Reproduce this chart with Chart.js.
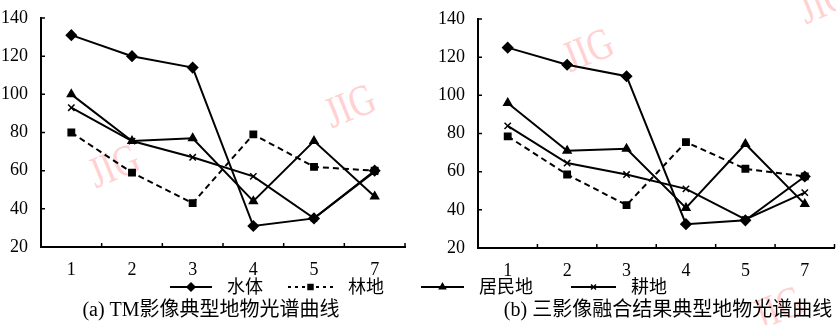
<!DOCTYPE html>
<html>
<head>
<meta charset="utf-8">
<script src="https://cdn.jsdelivr.net/npm/chart.js@4.4.1/dist/chart.umd.min.js"></script>
<style>
  html, body { margin: 0; padding: 0; background: #fff; overflow: hidden; }
  body { width: 836px; height: 325px; position: relative; }
  .box { position: absolute; top: 0; height: 325px; }
  .mark {
    position: absolute; font-family: "Liberation Serif", serif; font-size: 44px;
    color: rgba(255, 170, 170, 0.55); transform: rotate(-22deg) scaleX(0.8); white-space: nowrap;
  }
</style>
</head>
<body>
<div class="mark" style="left:318px;top:80px;">JIG</div>
<div class="mark" style="left:82px;top:140px;">JIG</div>
<div class="mark" style="left:556px;top:24px;">JIG</div>
<div class="mark" style="left:792px;top:-24px;">JIG</div>
<div class="mark" style="left:746px;top:282px;">JIG</div>
<div class="box" style="left:0;width:416px;"><canvas id="chart-a"></canvas></div>
<div class="box" style="left:416px;width:425px;"><canvas id="chart-b"></canvas></div>
<script>
// 波段 (TM band numbers)
const bands = ['1', '2', '3', '4', '5', '7'];
const seriesNames = ['水体', '林地', '居民地', '耕地'];

// (a) TM影像
const tmWater = [131, 120, 114, 31, 35, 60];
const tmForest = [80, 59, 43, 79, 62, 60];
const tmResidential = [100, 75.5, 77, 44, 75.5, 46.5];
const tmFarmland = [93, 75.5, 67, 57, 35, 59.5];

// (b) 三影像融合结果
const fusedWater = [125, 116, 110, 32.5, 34.5, 57.5];
const fusedForest = [78.5, 58.5, 42.5, 75.5, 61.5, 57.5];
const fusedResidential = [96, 71, 72, 41, 74.5, 43];
const fusedFarmland = [84, 64.5, 58.5, 51, 35, 49];

const yMin = 20, yMax = 140, yStep = 20;

const SERIF = '"Liberation Serif", "Times New Roman", serif';
const CJK = '"Liberation Serif", "Noto Sans CJK SC", serif';

Chart.defaults.font.family = SERIF;
Chart.defaults.font.size = 18;
Chart.defaults.color = '#000';

function makeDatasets(water, forest, residential, farmland) {
  const base = { borderColor: '#000', backgroundColor: '#000', borderWidth: 2, tension: 0, pointBorderWidth: 1.5 };
  return [
    { ...base, label: seriesNames[0], data: water, pointStyle: 'rectRot', pointRadius: 5 },
    { ...base, label: seriesNames[1], data: forest, pointStyle: 'rect', pointRadius: 4.5, borderDash: [6, 4] },
    { ...base, label: seriesNames[2], data: residential, pointStyle: 'triangle', pointRadius: 4.5 },
    { ...base, label: seriesNames[3], data: farmland, pointStyle: 'crossRot', pointRadius: 4.5 }
  ];
}

// ticks drawn inward, like the original figure
const innerTicks = {
  id: 'innerTicks',
  afterDraw(chart) {
    const { ctx, chartArea: a, scales } = chart;
    ctx.save();
    ctx.strokeStyle = '#000';
    ctx.lineWidth = 1.5;
    ctx.beginPath();
    scales.y.ticks.forEach(t => {
      const y = scales.y.getPixelForValue(t.value);
      ctx.moveTo(a.left, y);
      ctx.lineTo(a.left + 4, y);
    });
    const n = bands.length;
    for (let i = 0; i <= n; i++) {
      const x = a.left + i * (a.right - a.left) / n;
      ctx.moveTo(x, a.bottom);
      ctx.lineTo(x, a.bottom - 4);
    }
    ctx.stroke();
    ctx.restore();
  }
};

// line + marker legend and caption under each chart
const legendCaption = {
  id: 'legendCaption',
  afterDraw(chart, args, opts) {
    const ctx = chart.ctx;
    ctx.save();
    opts.items.forEach(item => {
      const ds = chart.data.datasets[item.index];
      ctx.strokeStyle = '#000';
      ctx.lineWidth = 2;
      ctx.setLineDash(ds.borderDash ? [3, 4] : []);
      ctx.beginPath();
      ctx.moveTo(item.x, opts.y);
      ctx.lineTo(item.x + item.len, opts.y);
      ctx.stroke();
      ctx.setLineDash([]);
      ctx.fillStyle = '#000';
      ctx.lineWidth = 1.5;
      Chart.helpers.drawPoint(ctx, { pointStyle: ds.pointStyle, radius: ds.pointRadius - 1, borderWidth: 1.5, rotation: 0 },
        item.x + item.len / 2, opts.y);
      ctx.font = '18px ' + CJK;
      ctx.textBaseline = 'middle';
      ctx.textAlign = 'left';
      ctx.fillText(ds.label, item.x + item.len + 15, opts.y + 1);
    });
    ctx.font = '20px ' + CJK;
    ctx.textAlign = 'center';
    ctx.textBaseline = 'middle';
    ctx.fillText(opts.caption, opts.captionX, opts.captionY);
    ctx.restore();
  }
};

function makeOptions(padding, legend) {
  return {
    responsive: true,
    maintainAspectRatio: false,
    animation: false,
    events: [],
    layout: { padding },
    scales: {
      x: {
        offset: true,
        grid: { display: false },
        border: { display: true, color: '#000', width: 2 },
        ticks: { padding: 4, font: { size: 18 } },
        afterFit: s => { s.height = 30; }
      },
      y: {
        min: yMin,
        max: yMax,
        grid: { display: false },
        border: { display: true, color: '#000', width: 2 },
        ticks: { stepSize: yStep, padding: 5, font: { size: 18 } },
        afterFit: s => { s.width = 41; }
      }
    },
    plugins: {
      legend: { display: false },
      tooltip: { enabled: false },
      legendCaption: legend
    }
  };
}

new Chart(document.getElementById('chart-a').getContext('2d'), {
  type: 'line',
  data: { labels: bands, datasets: makeDatasets(tmWater, tmForest, tmResidential, tmFarmland) },
  options: makeOptions({ left: 0, top: 18, right: 11, bottom: 48 }, {
    y: 287,
    items: [{ index: 0, x: 170, len: 42 }, { index: 1, x: 288, len: 45 }],
    caption: '(a) TM影像典型地物光谱曲线',
    captionX: 211,
    captionY: 311
  }),
  plugins: [innerTicks, legendCaption]
});

new Chart(document.getElementById('chart-b').getContext('2d'), {
  type: 'line',
  data: { labels: bands, datasets: makeDatasets(fusedWater, fusedForest, fusedResidential, fusedFarmland) },
  options: makeOptions({ left: 21, top: 19, right: 2, bottom: 47 }, {
    y: 287,
    items: [{ index: 2, x: 5, len: 43 }, { index: 3, x: 155, len: 45 }],
    caption: '(b) 三影像融合结果典型地物光谱曲线',
    captionX: 252,
    captionY: 311
  }),
  plugins: [innerTicks, legendCaption]
});
</script>
</body>
</html>
